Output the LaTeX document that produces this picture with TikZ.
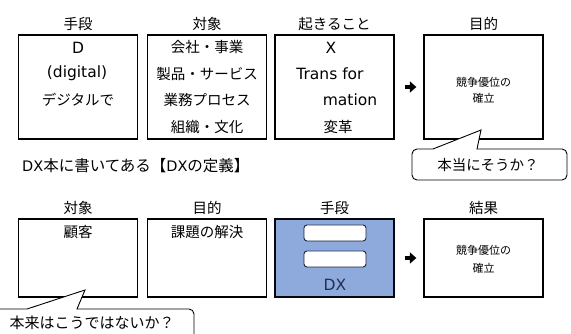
\documentclass[tikz,border=0pt]{standalone}
\usepackage{fontspec}
\setmainfont{Noto Sans CJK JP}
\newfontfamily\latf{DejaVu Sans}
\usetikzlibrary{arrows.meta}
\definecolor{dxblue}{HTML}{8EA9DB}
\definecolor{dxnavy}{HTML}{1F2F55}
\tikzset{
  box/.style={draw=black, line width=1.3pt, minimum width=119pt, minimum height=#1, inner sep=0pt},
  box/.default=104pt,
  lbl/.style={font=\fontsize{14.5}{16}\selectfont, inner sep=0pt, anchor=center},
  latin/.style={font=\fontsize{15.5}{17}\selectfont\latf, inner sep=0pt, anchor=center},
  small/.style={font=\fontsize{11}{12}\selectfont, inner sep=0pt, anchor=center},
  callout/.style={draw=black, line width=0.9pt, fill=white},
  bigarrow/.style={line width=4pt, -{Triangle[length=6.5pt,width=11pt]}},
  bar/.style={draw=dxnavy!80!black, line width=0.9pt, fill=white, rounded corners=3pt, minimum width=62pt, minimum height=16pt, inner sep=0pt}
}
\begin{document}
\begin{tikzpicture}[x=1pt,y=-1pt]
\useasboundingbox (0,0) rectangle (571,334);
\fill[white] (0,0) rectangle (571,334);
% ---------- top row ----------
\node[lbl] (h1) at (78,24) {手段};
\node[lbl] (h2) at (207,24) {対象};
\node[lbl] (h3) at (334.5,24) {起きること};
\node[lbl] (h4) at (483.5,24) {目的};
\node[box] (b1) at (78,87) {};
\node[box] (b2) at (207,87) {};
\node[box] (b3) at (334.5,87) {};
\node[box] (b4) at (483.5,87) {};
\node[latin] (t11) at (78,48) {D};
\node[latin] (t12) at (77,73) {(digital)};
\node[lbl] (t13) at (78,100) {デジタルで};
\node[lbl] (t21) at (207,47) {会社・事業};
\node[lbl] (t22) at (207,74) {製品・サービス};
\node[lbl] (t23) at (207,100) {業務プロセス};
\node[lbl] (t24) at (207,127) {組織・文化};
\node[latin] (t31) at (331,48) {X};
\node[latin] (t32) at (330,74) {Trans for};
\node[latin] (t33) at (350,100) {mation};
\node[lbl] (t34) at (338,127) {変革};
\node[small] (t41) at (483.5,82) {競争優位の};
\node[small] (t42) at (483.5,98) {確立};
\draw[bigarrow, shorten <=10pt, shorten >=7pt] (b3.east) -- (b4.west);
% callout 1
\draw[callout] (433,149) [sharp corners]-- (481,130) -- (477,149) [rounded corners=5pt]-- (567,149) -- (567,180) -- (412,180) -- (412,149) [sharp corners]-- cycle;
\node[lbl, font=\fontsize{14.5}{16}\selectfont] (c1) at (488,165) {本当にそうか？};
% heading
\node[lbl, anchor=west, font=\fontsize{15.5}{17}\selectfont] (def) at (22,166) {{\latf\fontsize{14.5}{16}\selectfont DX}本に書いてある【{\latf\fontsize{14.5}{16}\selectfont DX}の定義】};
% ---------- bottom row ----------
\node[lbl] (g1) at (78,208) {対象};
\node[lbl] (g2) at (207,208) {目的};
\node[lbl] (g3) at (334.5,208) {手段};
\node[lbl] (g4) at (483.5,208) {結果};
\node[box=78pt] (d1) at (78,258) {};
\node[box=78pt] (d2) at (207,258) {};
\node[box=78pt, fill=dxblue, draw=black!85!dxnavy] (d3) at (334.5,258) {};
\node[box=78pt] (d4) at (483.5,258) {};
\node[lbl] (s11) at (78,232) {顧客};
\node[lbl] (s21) at (207,232) {課題の解決};
\node[bar] (bar1) at (335,233) {};
\node[bar] (bar2) at (335,259) {};
\node[latin, text=dxnavy] (s31) at (335,285) {DX};
\node[small] (s41) at (483.5,250) {競争優位の};
\node[small] (s42) at (483.5,268) {確立};
\draw[bigarrow, shorten <=10pt, shorten >=7pt] (d3.east) -- (d4.west);
% callout 2
\draw[callout] (27,309) [sharp corners]-- (85,290) -- (77,309) [rounded corners=5pt]-- (194,309) -- (194,345) -- (-5,345) -- (-5,309) [sharp corners]-- cycle;
\node[lbl, font=\fontsize{15}{16}\selectfont] (c2) at (92,323) {本来はこうではないか？};
\end{tikzpicture}
\end{document}
